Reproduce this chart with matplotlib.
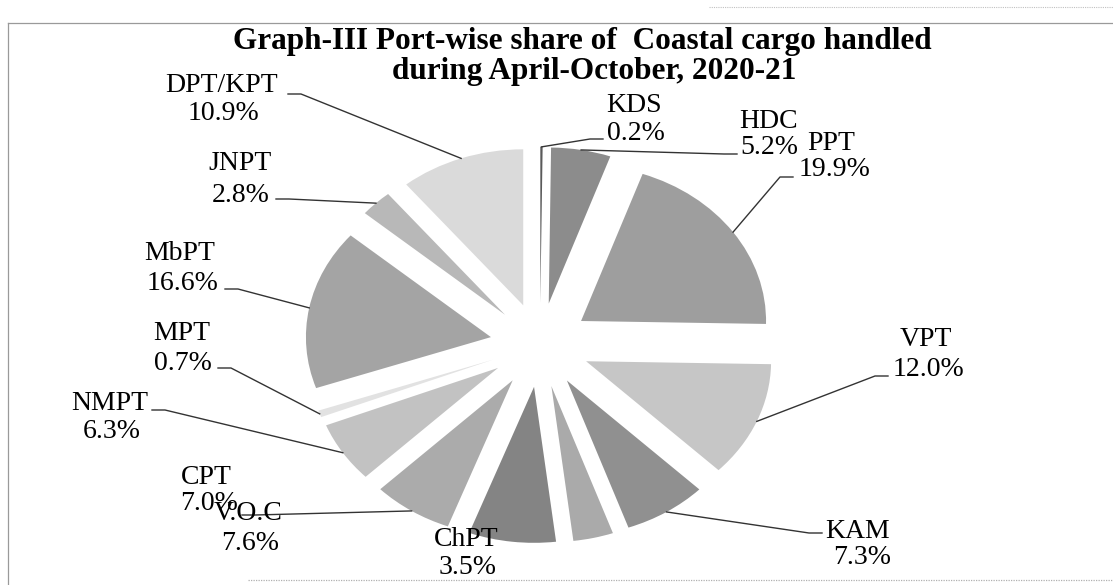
import numpy as np
import matplotlib
matplotlib.use("Agg")
import matplotlib.pyplot as plt

W, H = 1113, 585

# Port-wise share (%), clockwise from 12 o'clock
PORTS = ["KDS", "HDC", "PPT", "VPT", "KAM", "ChPT", "V.O.C", "CPT",
         "NMPT", "MPT", "MbPT", "JNPT", "DPT/KPT"]
SHARES = [0.2, 5.2, 19.9, 12.0, 7.3, 3.5, 7.6, 7.0, 6.3, 0.7, 16.6, 2.8, 10.9]
GRAYS = ["#5a5a5a", "#8c8c8c", "#9e9e9e", "#c6c6c6", "#909090", "#aaaaaa",
         "#848484", "#ababab", "#c2c2c2", "#e2e2e2", "#a4a4a4", "#b8b8b8",
         "#dadada"]
TITLE = ["Graph-III Port-wise share of  Coastal cargo handled",
         "during April-October, 2020-21"]

# label layout in image pixels: name centre, pct centre, leader start (None = no leader)
LAYOUT = {
    "KDS":     ((634, 105), (636, 134), (603, 139)),
    "HDC":     ((769, 121), (769, 147), (737, 154)),
    "PPT":     ((831, 143), (835, 170), (793, 177)),
    "VPT":     ((926, 340), (928, 369), (888, 376)),
    "KAM":     ((858, 531), (862, 558), (822, 533)),
    "ChPT":    ((466, 540), (468, 568), None),
    "V.O.C":   ((248, 513), (250, 543), None),
    "CPT":     ((206, 477), (209, 503), (242, 515)),
    "NMPT":    ((110, 403), (112, 432), (152, 410)),
    "MPT":     ((182, 333), (183, 363), (218, 368)),
    "MbPT":    ((180, 253), (183, 283), (225, 289)),
    "JNPT":    ((240, 163), (241, 195), (276, 199)),
    "DPT/KPT": ((222, 86), (223, 114), (288, 94)),
}

plt.rcParams['font.family'] = ['Liberation Serif', 'DejaVu Serif']

fig = plt.figure(figsize=(W / 100, H / 100), dpi=100)

# pie axes: centre at (540, 345) px, 185 px/unit across, 156 px/unit down (scan is stretched)
cx, cy, sx, sy = 540, 345, 185, 156
ax = fig.add_axes([(cx - 1.5 * sx) / W, (H - cy - 1.5 * sy) / H, 3 * sx / W, 3 * sy / H])
wedges, _ = ax.pie(SHARES, explode=[0.27] * len(SHARES), colors=GRAYS,
                   startangle=90, counterclock=False,
                   wedgeprops=dict(linewidth=0))
ax.set_aspect('auto')
ax.set_xlim(-1.5, 1.5)
ax.set_ylim(-1.5, 1.5)
ax.axis('off')

# overlay axes in image pixel coordinates for texts / leaders / frame
lay = fig.add_axes([0, 0, 1, 1])
lay.set_xlim(0, W)
lay.set_ylim(H, 0)
lay.axis('off')
lay.patch.set_alpha(0)

# scanned page frame
frame_kw = dict(color="#9a9a9a", lw=0.9)
lay.plot([8, 8], [23, H], **frame_kw)
lay.plot([8, W], [23, 23], **frame_kw)
lay.plot([248, W], [580, 580], color="#b0b0b0", lw=0.9, ls=(0, (1, 1)))
lay.plot([709, W], [7, 7], color="#c0c0c0", lw=0.8, ls=(0, (1, 1)))

for (x, y), line in zip([(582, 41), (594, 72)], TITLE):
    lay.text(x, y, line, ha='center', va='center',
             fontsize=22.5, fontweight='bold')

to_px = lay.transData.inverted()
for w, port, share in zip(wedges, PORTS, SHARES):
    name_xy, pct_xy, start = LAYOUT[port]
    lay.text(*name_xy, port, ha='center', va='center', fontsize=20)
    lay.text(*pct_xy, f"{share:.1f}%", ha='center', va='center', fontsize=20)
    if start is None:
        continue
    mid = np.deg2rad((w.theta1 + w.theta2) / 2)
    px = w.center[0] + np.cos(mid) * w.r
    py = w.center[1] + np.sin(mid) * w.r
    ex, ey = to_px.transform(ax.transData.transform((px, py)))
    step = 13 if ex > start[0] else -13
    lay.plot([start[0], start[0] + step, ex], [start[1], start[1], ey],
             color="#333333", lw=1.0)

fig.savefig("out.png", dpi=100, facecolor="white")
